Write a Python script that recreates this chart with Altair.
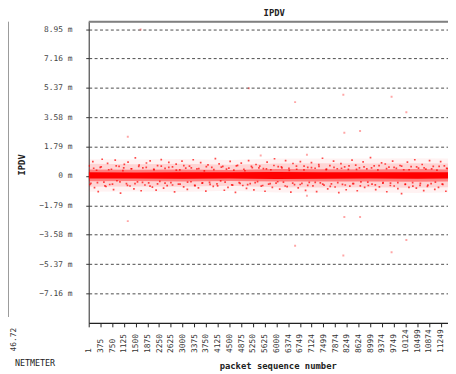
import altair as alt
import pandas as pd

# ---- axis ticks ----
x_ticks = [1, 375, 750, 1125, 1500, 1875, 2250, 2625, 3000, 3375, 3750, 4125,
           4500, 4875, 5250, 5625, 6000, 6374, 6749, 7124, 7499, 7874, 8249,
           8624, 8999, 9374, 9749, 10124, 10499, 10874, 11249]
y_ticks = [-7.16, -5.37, -3.58, -1.79, 0, 1.79, 3.58, 5.37, 7.16, 8.95]

# ---- dense band of IPDV values around zero (ms) ----
band_x = [1, 1500, 3000, 4500, 6000, 7500, 9000, 10500, 11483]
core_hi = [0.22, 0.21, 0.23, 0.22, 0.24, 0.23, 0.22, 0.23, 0.22]
core_lo = [-0.16, -0.15, -0.17, -0.16, -0.18, -0.17, -0.16, -0.17, -0.16]
mid_hi = [0.4, 0.38, 0.4, 0.37, 0.42, 0.41, 0.4, 0.42, 0.4]
mid_lo = [-0.32, -0.31, -0.33, -0.3, -0.34, -0.34, -0.33, -0.35, -0.33]
inner_hi = [0.74, 0.72, 0.74, 0.68, 0.76, 0.77, 0.76, 0.78, 0.76]
inner_lo = [-0.66, -0.64, -0.66, -0.6, -0.68, -0.7, -0.69, -0.71, -0.69]
outer_hi = [1.02, 1.0, 1.04, 0.97, 1.07, 1.07, 1.06, 1.08, 1.07]
outer_lo = [-0.96, -0.94, -0.98, -0.9, -1.0, -1.02, -1.01, -1.03, -1.01]

# ---- scattered halo samples ----
halo_x = [
    14, 71, 133, 186, 252, 305, 368, 431, 486, 553, 604, 672, 727, 795, 848, 903, 971, 1018, 1094, 1139,
    1207, 1258, 1321, 1372, 1446, 1491, 1559, 1612, 1677, 1731, 1798, 1846, 1917, 1964, 2036, 2089, 2155, 2201, 2273, 2319,
    2394, 2441, 2508, 2561, 2628, 2679, 2745, 2796, 2868, 2913, 2982, 3035, 3102, 3153, 3221, 3269, 3341, 3388, 3460, 3507,
    3579, 3625, 3696, 3744, 3813, 3862, 3934, 3981, 4049, 4100, 4168, 4217, 4286, 4335, 4404, 4452, 4521, 4573, 4639, 4690,
    4757, 4808, 4876, 4925, 4993, 5044, 5111, 5161, 5229, 5280, 5348, 5396, 5467, 5515, 5584, 5635, 5702, 5751, 5822, 5870,
    5939, 5988, 6057, 6105, 6176, 6224, 6293, 6342, 6411, 6461, 6529, 6578, 6647, 6696, 6765, 6814, 6883, 6931, 7001, 7049,
    7119, 7167, 7236, 7285, 7354, 7403, 7472, 7521, 7590, 7639, 7708, 7757, 7826, 7875, 7944, 7993, 8062, 8111, 8180, 8229,
    8298, 8347, 8416, 8465, 8534, 8583, 8652, 8701, 8770, 8819, 8888, 8937, 9006, 9055, 9124, 9173, 9242, 9291, 9360, 9409,
    9478, 9527, 9596, 9645, 9714, 9763, 9832, 9881, 9950, 9999, 10068, 10117, 10186, 10235, 10304, 10353, 10422, 10471, 10540, 10589,
    10658, 10707, 10776, 10825, 10894, 10943, 11012, 11061, 11130, 11179, 11248, 11297, 11366, 11415, 11460]
halo_y = [
    0.62, -0.45, 0.88, -0.71, 0.35, -0.95, 0.52, 1.02, -0.38, -0.64, 0.77, -0.52, 0.41, -0.83, 0.96, -0.29, 0.58, -1.05, 0.33, 0.71,
    -0.47, 0.85, -0.61, 0.44, -0.78, 1.1, -0.36, 0.67, -0.9, 0.5, -0.55, 0.79, -0.42, 0.92, -0.68, 0.39, -0.86, 0.63, -0.33, 1.0,
    -0.74, 0.46, -0.59, 0.83, -0.4, 0.55, -0.97, 0.72, -0.5, 0.37, 0.9, -0.66, 0.48, -0.81, 0.6, -0.35, 0.99, -0.57, 0.43, -0.73,
    0.81, -0.44, 0.31, -0.92, 0.68, -0.39, 0.53, -0.63, 1.06, -0.48, 0.74, -0.3, 0.58, -0.87, 0.42, -0.69, 0.89, -0.54, 0.36, -1.0,
    0.65, -0.41, 0.78, -0.58, 0.32, -0.76, 0.94, -0.46, 0.51, -0.85, 0.7, -0.34, 0.6, -0.62, 0.45, -0.93, 0.84, -0.5, 0.38, -0.7,
    1.05, -0.43, 0.57, -0.8, 0.49, -0.37, 0.93, -0.65, 0.34, -0.98, 0.76, -0.53, 0.41, -0.72, 0.87, -0.45, 0.6, -0.88, 0.52, -0.39,
    0.82, -0.6, 0.47, -0.95, 0.69, -0.42, 1.08, -0.56, 0.39, -0.79, 0.63, -0.48, 0.91, -0.67, 0.44, -1.02, 0.75, -0.51, 0.56, -0.84,
    0.4, -0.62, 0.97, -0.46, 0.66, -0.9, 0.5, -0.36, 0.86, -0.7, 0.43, -0.58, 1.12, -0.49, 0.61, -0.83, 0.37, -0.66, 0.8, -0.41,
    0.73, -0.96, 0.54, -0.44, 0.9, -0.61, 0.46, -0.77, 0.64, -1.08, 0.38, -0.52, 0.85, -0.69, 0.57, -0.4, 0.99, -0.74, 0.48, -0.57,
    0.7, -0.89, 0.42, -0.63, 0.94, -0.47, 0.59, -0.81, 0.36, -0.7, 0.88, -0.5, 0.62, -0.93, 0.45]

# second, closer-in set of halo samples
halo2_x = [
    40, 160, 280, 400, 520, 640, 760, 880, 1000, 1120, 1240, 1360, 1480, 1600, 1720, 1840, 1960, 2080, 2200, 2320,
    2440, 2560, 2680, 2800, 2920, 3040, 3160, 3280, 3400, 3520, 3640, 3760, 3880, 4000, 4120, 4240, 4360, 4480, 4600, 4720,
    4840, 4960, 5080, 5200, 5320, 5440, 5560, 5680, 5800, 5920, 6040, 6160, 6280, 6400, 6520, 6640, 6760, 6880, 7000, 7120,
    7240, 7360, 7480, 7600, 7720, 7840, 7960, 8080, 8200, 8320, 8440, 8560, 8680, 8800, 8920, 9040, 9160, 9280, 9400, 9520,
    9640, 9760, 9880, 10000, 10120, 10240, 10360, 10480, 10600, 10720, 10840, 10960, 11080, 11200, 11320, 11440]
halo2_y = [
    -0.52, 0.47, -0.41, 0.56, -0.6, 0.38, -0.49, 0.61, -0.36, 0.5, -0.57, 0.44, -0.46, 0.58, -0.39, 0.53, -0.62, 0.4, -0.48, 0.6,
    -0.43, 0.52, -0.55, 0.36, -0.5, 0.63, -0.37, 0.49, -0.59, 0.45, -0.42, 0.57, -0.51, 0.39, -0.6, 0.54, -0.38, 0.48, -0.56, 0.62,
    -0.45, 0.41, -0.53, 0.59, -0.4, 0.5, -0.58, 0.43, -0.47, 0.64, -0.35, 0.55, -0.61, 0.46, -0.44, 0.6, -0.52, 0.37, -0.57, 0.51,
    -0.39, 0.58, -0.5, 0.42, -0.63, 0.53, -0.41, 0.47, -0.55, 0.61, -0.46, 0.4, -0.6, 0.56, -0.38, 0.49, -0.54, 0.63, -0.43, 0.45,
    -0.58, 0.52, -0.4, 0.6, -0.49, 0.38, -0.62, 0.55, -0.45, 0.5, -0.56, 0.43, -0.37, 0.59, -0.51, 0.47]

# ---- isolated outliers ----
out_x = [1250, 1250, 1659, 5119, 5497, 6597, 6597, 6975, 6975, 8138, 8138,
         8170, 8170, 8673, 8673, 9680, 9680, 10152, 10152]
out_y = [2.39, -2.75, 8.93, 5.35, 1.25, 4.5, -4.25, 1.3, -1.2, 4.95, -4.85,
         2.63, -2.5, 2.74, -2.5, 4.83, -4.65, 3.88, -3.9]

W, H = 365, 306
MONO = "DejaVu Sans Mono"

xs = alt.Scale(domain=[1, 11483], nice=False, zero=False)
ys = alt.Scale(domain=[-8.95, 9.4], nice=False, zero=False)

xa = alt.Axis(values=x_ticks, format="d", labelAngle=270, labelAlign="left",
              labelBaseline="middle", labelPadding=26, tickSize=4, tickColor="#222",
              domainColor="#222", domainWidth=1.5, labelFont=MONO, labelFontSize=8,
              labelColor="#333", labelFlush=False, labelOverlap=False, grid=False,
              title="packet sequence number", titleFont=MONO, titleFontSize=9,
              titleFontWeight="bold", titleColor="#222", titleX=192, titleY=43,
              titleAlign="center", titleBaseline="middle")
ya = alt.Axis(values=y_ticks,
              labelExpr="datum.value == 0 ? '0 m' : format(datum.value, '.2f') + ' m'",
              grid=True, gridDash=[3, 2.5], gridColor="#4a4a4a", gridWidth=1,
              tickSize=3, tickColor="#333", domainColor="#333", domainWidth=1,
              labelFont=MONO, labelFontSize=8, labelColor="#444", labelPadding=14,
              labelFlush=False, labelOverlap=False,
              title="IPDV", titleFont=MONO, titleFontSize=9, titleFontWeight="bold",
              titleColor="#222", titleX=-68, titleY=145, titleAngle=270,
              titleAlign="center", titleBaseline="middle")


def X(f):
    return alt.X(f, type="quantitative", scale=xs, axis=xa)


def Y(f):
    return alt.Y(f, type="quantitative", scale=ys, axis=ya)


band = pd.DataFrame({"x": band_x, "core_lo": core_lo, "core_hi": core_hi,
                     "mid_lo": mid_lo, "mid_hi": mid_hi,
                     "inner_lo": inner_lo, "inner_hi": inner_hi,
                     "outer_lo": outer_lo, "outer_hi": outer_hi})
halo = pd.DataFrame({"x": halo_x + halo2_x, "y": halo_y + halo2_y})
outl = pd.DataFrame({"x": out_x, "y": out_y})

layers = []
for lo, hi, op in [("outer_lo", "outer_hi", 0.05), ("inner_lo", "inner_hi", 0.12),
                   ("mid_lo", "mid_hi", 0.4), ("core_lo", "core_hi", 1.0)]:
    layers.append(alt.Chart(band).mark_area(color="#ff0000", opacity=op, clip=True)
                  .encode(x=X("x"), y=Y(lo), y2=alt.Y2(hi)))

layers.append(alt.Chart(halo).mark_point(filled=True, shape="square", size=3,
                                         color="#ff0000", opacity=0.7, clip=True)
              .encode(x=X("x"), y=Y("y")))
layers.append(alt.Chart(outl).mark_point(filled=True, shape="square", size=4,
                                         color="#ff0000", opacity=0.35, clip=True)
              .encode(x=X("x"), y=Y("y")))

one = pd.DataFrame({"a": [0]})
# top border of the plot
layers.append(alt.Chart(one).mark_rule(color="#808080", strokeWidth=2)
              .encode(x=alt.value(0), x2=alt.value(W), y=alt.value(0)))
# edge of neighbouring panel
layers.append(alt.Chart(one).mark_rule(color="#999999", strokeWidth=1)
              .encode(x=alt.value(-81.5), y=alt.value(0), y2=alt.value(300)))
layers.append(alt.Chart(one).mark_text(text="46.72", font=MONO, fontSize=8, angle=270,
                                       align="center", baseline="middle", color="#333")
              .encode(x=alt.value(-76), y=alt.value(323)))
layers.append(alt.Chart(one).mark_text(text="NETMETER", font=MONO, fontSize=8.5,
                                       align="left", baseline="middle", color="#222")
              .encode(x=alt.value(-75), y=alt.value(347)))

chart = alt.layer(*layers).properties(
    width=W, height=H,
    title=alt.TitleParams("IPDV", font=MONO, fontSize=9, fontWeight="bold",
                          color="#222", anchor="middle", dx=6, offset=3),
    autosize=alt.AutoSizeParams(type="none"),
    padding={"left": 82, "top": 11, "right": 0, "bottom": 48},
).configure_view(fill="#eeeeee", stroke=None).configure(background="white")

chart.save("out.html", embed_options={"renderer": "svg", "actions": False})
